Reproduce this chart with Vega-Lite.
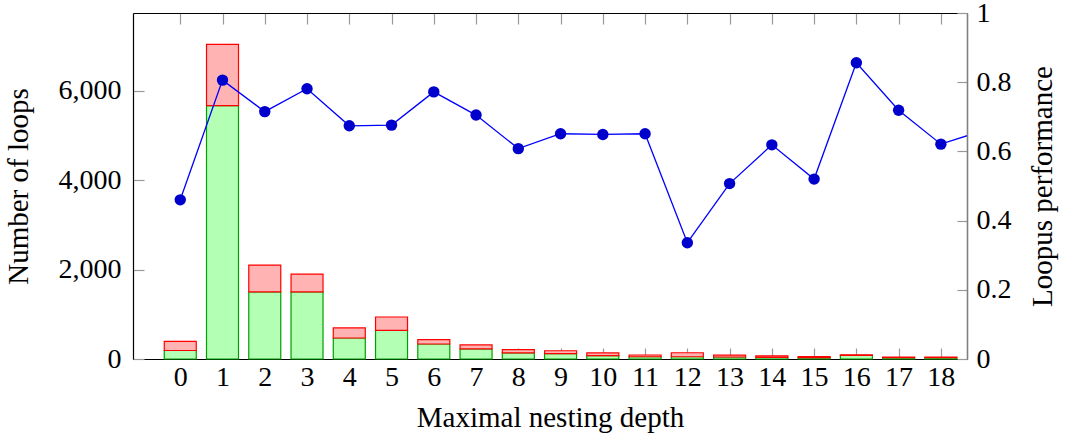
{
  "$schema": "https://vega.github.io/schema/vega-lite/v6.json",
  "width": 834,
  "height": 346,
  "autosize": {"type": "none"},
  "padding": {"left": 133, "top": 13, "right": 98, "bottom": 78},
  "background": "white",
  "config": {
    "view": {"stroke": null},
    "font": "Liberation Serif",
    "axis": {
      "labelFont": "Liberation Serif",
      "titleFont": "Liberation Serif",
      "labelFontSize": 28,
      "titleFontSize": 29,
      "titleFontWeight": "normal",
      "labelColor": "black",
      "titleColor": "black",
      "grid": false,
      "domainColor": "black",
      "domainWidth": 1.2,
      "tickColor": "#999999",
      "tickWidth": 1.2
    }
  },
  "datasets": {
    "bars": [
      {"depth": 0, "series": "A", "loops": 190}, {"depth": 0, "series": "B", "loops": 206},
      {"depth": 1, "series": "A", "loops": 5670}, {"depth": 1, "series": "B", "loops": 1370},
      {"depth": 2, "series": "A", "loops": 1500}, {"depth": 2, "series": "B", "loops": 600},
      {"depth": 3, "series": "A", "loops": 1500}, {"depth": 3, "series": "B", "loops": 400},
      {"depth": 4, "series": "A", "loops": 470}, {"depth": 4, "series": "B", "loops": 225},
      {"depth": 5, "series": "A", "loops": 640}, {"depth": 5, "series": "B", "loops": 300},
      {"depth": 6, "series": "A", "loops": 335}, {"depth": 6, "series": "B", "loops": 100},
      {"depth": 7, "series": "A", "loops": 225}, {"depth": 7, "series": "B", "loops": 90},
      {"depth": 8, "series": "A", "loops": 135}, {"depth": 8, "series": "B", "loops": 75},
      {"depth": 9, "series": "A", "loops": 120}, {"depth": 9, "series": "B", "loops": 65},
      {"depth": 10, "series": "A", "loops": 75}, {"depth": 10, "series": "B", "loops": 60},
      {"depth": 11, "series": "A", "loops": 50}, {"depth": 11, "series": "B", "loops": 40},
      {"depth": 12, "series": "A", "loops": 50}, {"depth": 12, "series": "B", "loops": 90},
      {"depth": 13, "series": "A", "loops": 45}, {"depth": 13, "series": "B", "loops": 40},
      {"depth": 14, "series": "A", "loops": 35}, {"depth": 14, "series": "B", "loops": 35},
      {"depth": 15, "series": "A", "loops": 30}, {"depth": 15, "series": "B", "loops": 25},
      {"depth": 16, "series": "A", "loops": 80}, {"depth": 16, "series": "B", "loops": 15},
      {"depth": 17, "series": "A", "loops": 30}, {"depth": 17, "series": "B", "loops": 12},
      {"depth": 18, "series": "A", "loops": 30}, {"depth": 18, "series": "B", "loops": 12}
    ],
    "perf": [
      {"depth": 0, "perf": 0.46}, {"depth": 1, "perf": 0.806}, {"depth": 2, "perf": 0.715},
      {"depth": 3, "perf": 0.781}, {"depth": 4, "perf": 0.674}, {"depth": 5, "perf": 0.676},
      {"depth": 6, "perf": 0.772}, {"depth": 7, "perf": 0.705}, {"depth": 8, "perf": 0.608},
      {"depth": 9, "perf": 0.651}, {"depth": 10, "perf": 0.649}, {"depth": 11, "perf": 0.651},
      {"depth": 12, "perf": 0.336}, {"depth": 13, "perf": 0.507}, {"depth": 14, "perf": 0.619},
      {"depth": 15, "perf": 0.52}, {"depth": 16, "perf": 0.856}, {"depth": 17, "perf": 0.719},
      {"depth": 18, "perf": 0.621}, {"depth": 19, "perf": 0.66}
    ]
  },
  "layer": [
    {
      "data": {"name": "bars"},
      "mark": {"type": "bar", "size": 32, "strokeWidth": 1.2},
      "encoding": {
        "x": {
          "field": "depth", "type": "quantitative",
          "scale": {"domain": [-1, 18.5], "nice": false, "zero": false},
          "axis": {
            "orient": "bottom",
            "values": [0, 1, 2, 3, 4, 5, 6, 7, 8, 9, 10, 11, 12, 13, 14, 15, 16, 17, 18],
            "format": "d",
            "title": "Maximal nesting depth",
            "tickSize": -11,
            "labelPadding": 15,
            "titlePadding": 12
          }
        },
        "y": {
          "field": "loops", "type": "quantitative", "stack": "zero",
          "scale": {"domain": [0, 7740], "nice": false},
          "axis": {
            "orient": "left",
            "values": [0, 2000, 4000, 6000],
            "format": ",d",
            "title": "Number of loops",
            "tickSize": -11,
            "labelPadding": 23,
            "titlePadding": 25
          }
        },
        "fill": {"field": "series", "type": "nominal", "scale": {"domain": ["A", "B"], "range": ["#b3ffb3", "#ffb3b3"]}, "legend": null},
        "stroke": {"field": "series", "type": "nominal", "scale": {"domain": ["A", "B"], "range": ["#00a000", "#ff0000"]}, "legend": null},
        "order": {"field": "series", "sort": "ascending"}
      }
    },
    {
      "data": {"name": "perf"},
      "encoding": {
        "x": {
          "field": "depth", "type": "quantitative",
          "axis": {
            "orient": "top",
            "values": [0, 1, 2, 3, 4, 5, 6, 7, 8, 9, 10, 11, 12, 13, 14, 15, 16, 17, 18],
            "labels": false,
            "title": null,
            "tickSize": -11
          }
        },
        "y": {
          "field": "perf", "type": "quantitative",
          "scale": {"domain": [0, 1], "nice": false},
          "axis": {
            "orient": "right",
            "values": [0, 0.2, 0.4, 0.6, 0.8, 1],
            "format": "~g",
            "title": "Loopus performance",
            "titleAngle": -90,
            "domainColor": "#808080",
            "domainWidth": 1.6,
            "tickSize": -10,
            "labelPadding": 19,
            "titlePadding": 46
          }
        }
      },
      "layer": [
        {"mark": {"type": "line", "color": "#0000ff", "strokeWidth": 1.3, "clip": true}},
        {"mark": {"type": "point", "filled": true, "shape": "circle", "size": 130, "color": "#0000cc", "opacity": 1, "clip": true}}
      ]
    }
  ],
  "resolve": {"scale": {"y": "independent"}, "axis": {"x": "independent", "y": "independent"}}
}
